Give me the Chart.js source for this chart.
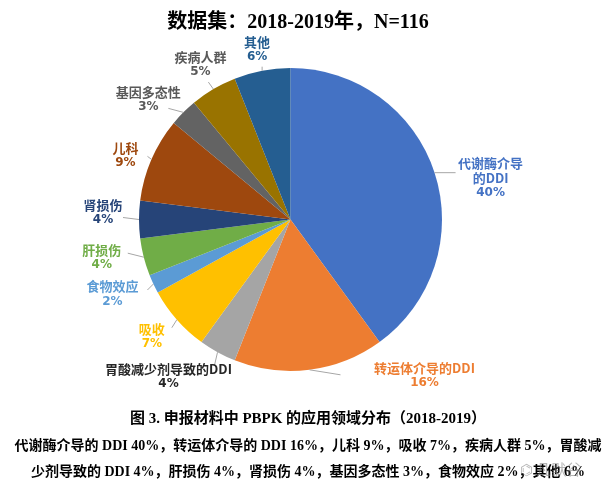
<!DOCTYPE html>
<html>
<head>
<meta charset="utf-8">
<script src="https://cdn.jsdelivr.net/npm/chart.js@4.4.0/dist/chart.umd.min.js"></script>
<style>
  html, body { margin: 0; padding: 0; background: #fff; }
  #wrap { position: relative; width: 616px; height: 487px; overflow: hidden; }
  #pie { position: absolute; left: 0; top: 0; }
  .txt { position: absolute; left: 0; width: 616px; text-align: center; font-weight: bold; color: #000; white-space: nowrap;
         font-family: "Liberation Serif", "Noto Sans CJK SC", serif; }
  #title { top: 5px; font-size: 20px; left: -10px; }
  #cap1 { top: 406px; font-size: 15px; }
  #cap2 { top: 434px; font-size: 14px; }
  #cap3 { top: 460px; font-size: 14px; }
  #mark { position: absolute; left: 520px; top: 458px; font-size: 15px; color: rgba(120,120,120,0.55);
          font-family: "Noto Sans CJK SC", sans-serif; }
</style>
</head>
<body>
<div id="wrap">
  <canvas id="pie" width="616" height="487"></canvas>
  <div class="txt" id="title">数据集：2018-2019年，N=116</div>
  <div class="txt" id="cap1">图 3. 申报材料中 PBPK 的应用领域分布（2018-2019）</div>
  <div class="txt" id="cap2">代谢酶介导的 DDI 40%，转运体介导的 DDI 16%，儿科 9%，吸收 7%，疾病人群 5%，胃酸减</div>
  <div class="txt" id="cap3">少剂导致的 DDI 4%，肝损伤 4%，肾损伤 4%，基因多态性 3%，食物效应 2%，其他 6%</div>
  <div id="mark">⌬ 凡默谷</div>
</div>
<script>
// slices, clockwise from 12 o'clock
const categories = ['代谢酶介导的DDI', '转运体介导的DDI', '胃酸减少剂导致的DDI', '吸收', '食物效应',
                    '肝损伤', '肾损伤', '儿科', '基因多态性', '疾病人群', '其他'];
const shares = [40, 16, 4, 7, 2, 4, 4, 9, 3, 5, 6];

const sliceColors = ['#4472C4', '#ED7D31', '#A5A5A5', '#FFC000', '#5B9BD5',
                     '#70AD47', '#264478', '#9E480E', '#636363', '#997300', '#255E91'];
const labelColors = ['#4472C4', '#ED7D31', '#262626', '#FFC000', '#5B9BD5',
                     '#70AD47', '#264478', '#9E480E', '#595959', '#595959', '#255E91'];

// how each name is broken over lines in its callout
const nameLines = [['代谢酶介导', '的DDI'], ['转运体介导的DDI'], ['胃酸减少剂导致的DDI'], ['吸收'], ['食物效应'],
                   ['肝损伤'], ['肾损伤'], ['儿科'], ['基因多态性'], ['疾病人群'], ['其他']];

// callout placement, relative to the point on the rim at the slice's middle angle
const leaderEnd = [[21, 0], [31, 5], [-3, 13], [-5, 8], [-6, 6], [-16, -4], [-16, -2], [-4, -3], [-15, -4], [-5, -7], [0, -4]];
const textShift = [[56, 5], [115, 6], [-49, 24], [-25, 17], [-41, 10], [-42, 0], [-36, -7], [-26, -4], [-35, -13], [-13, -25], [-5, -21]];

const calloutPlugin = {
    id: 'callouts',
    afterDatasetsDraw(chart) {
        const ctx = chart.ctx;
        const meta = chart.getDatasetMeta(0);
        meta.data.forEach((arc, i) => {
            const p = arc.getProps(['x', 'y', 'startAngle', 'endAngle', 'outerRadius'], true);
            const mid = (p.startAngle + p.endAngle) / 2;
            const ex = p.x + Math.cos(mid) * p.outerRadius;
            const ey = p.y + Math.sin(mid) * p.outerRadius;

            ctx.save();
            ctx.strokeStyle = '#A6A6A6';
            ctx.lineWidth = 1;
            ctx.beginPath();
            ctx.moveTo(ex, ey);
            ctx.lineTo(ex + leaderEnd[i][0], ey + leaderEnd[i][1]);
            ctx.stroke();

            const lines = nameLines[i].concat([shares[i] + '%']);
            const lh = 15;
            const cx = ex + textShift[i][0];
            const top = ey + textShift[i][1] - (lines.length - 1) * lh / 2;
            ctx.fillStyle = labelColors[i];
            ctx.textAlign = 'center';
            ctx.textBaseline = 'middle';
            lines.forEach((t, k) => {
                const isPct = k === lines.length - 1;
                ctx.font = isPct ? 'bold 12px "DejaVu Sans", sans-serif' : 'bold 13px "Noto Sans CJK SC", sans-serif';
                ctx.fillText(t, cx, top + k * lh);
            });
            ctx.restore();
        });
    }
};

new Chart(document.getElementById('pie'), {
    type: 'pie',
    data: {
        labels: categories,
        datasets: [{
            data: shares,
            backgroundColor: sliceColors,
            borderWidth: 0,
            hoverOffset: 0
        }]
    },
    options: {
        responsive: false,
        animation: false,
        layout: { padding: { left: 139, right: 174, top: 68, bottom: 116 } },
        plugins: {
            legend: { display: false },
            tooltip: { enabled: false }
        }
    },
    plugins: [calloutPlugin]
});
</script>
</body>
</html>
